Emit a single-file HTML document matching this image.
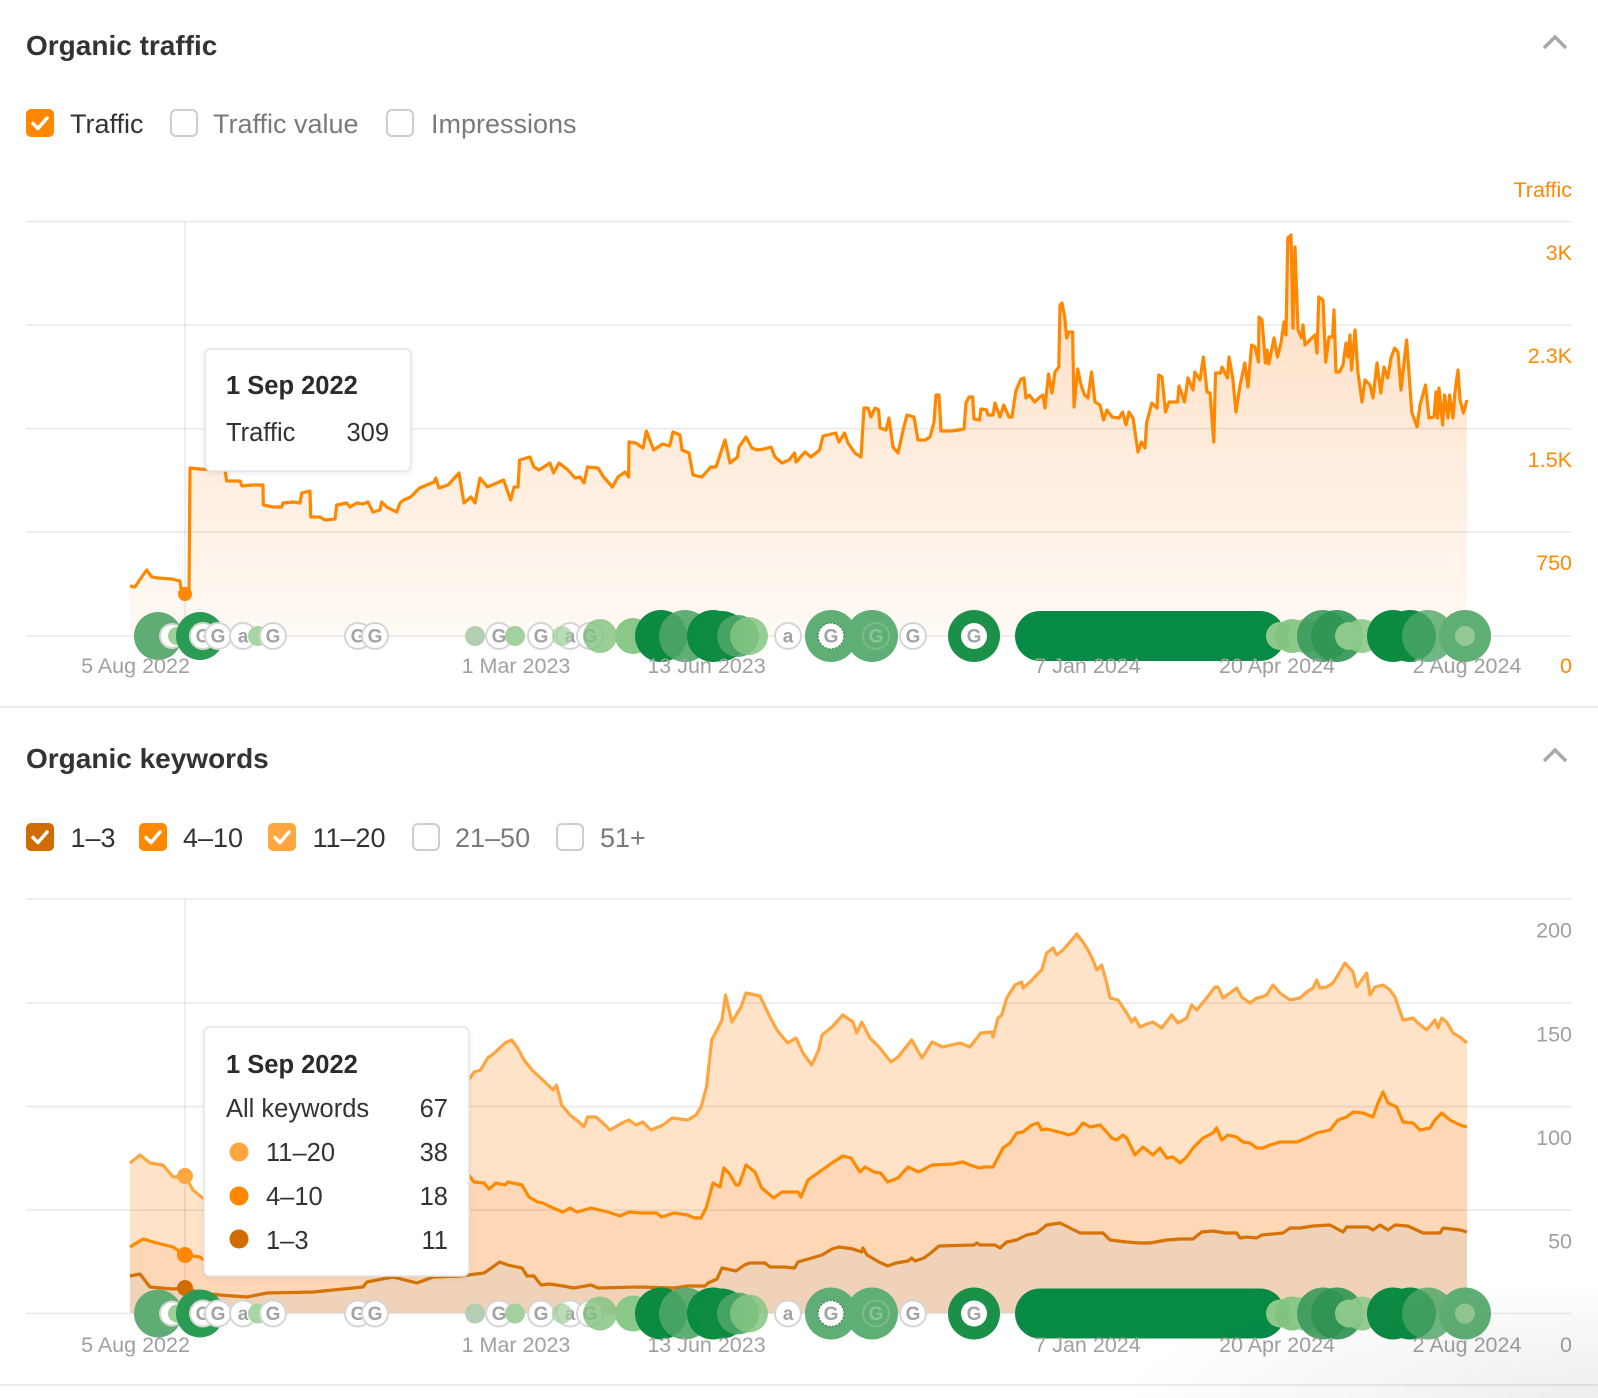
<!DOCTYPE html>
<html><head><meta charset="utf-8"><style>
html,body{margin:0;padding:0;background:#fff;width:1598px;height:1398px;overflow:hidden;}
svg{display:block;font-family:"Liberation Sans",Arial,sans-serif;overflow:hidden;}
</style></head><body>
<svg width="1598" height="1398" viewBox="0 0 1598 1398" xmlns="http://www.w3.org/2000/svg">
<defs>
<linearGradient id="tg" gradientUnits="userSpaceOnUse" x1="0" y1="240" x2="0" y2="636">
<stop offset="0" stop-color="#fddcbf"/><stop offset="1" stop-color="#fffaf5"/>
</linearGradient>
<radialGradient id="vg" gradientUnits="userSpaceOnUse" cx="1598" cy="1398" r="480" gradientTransform="translate(0,1398) scale(1,0.25) translate(0,-1398)">
<stop offset="0" stop-color="#000" stop-opacity="0.07"/><stop offset="1" stop-color="#000" stop-opacity="0"/>
</radialGradient>
<filter id="sh" x="-5%" y="-5%" width="110%" height="115%"><feDropShadow dx="0" dy="2" stdDeviation="3" flood-color="#000" flood-opacity="0.07"/></filter>
</defs>
<rect width="1598" height="1398" fill="#fff"/>

<!-- ===== Section 1 ===== -->
<text x="26" y="55" font-size="28" font-weight="bold" fill="#333">Organic traffic</text>
<polyline points="1544,48 1555,37 1566,48" fill="none" stroke="#a9a9a9" stroke-width="3.5"/>

<rect x="26" y="109" width="28" height="28" rx="5" fill="#ff8800"/>
<path d="M33,123.5 L38,128.5 L47,118" fill="none" stroke="#fff" stroke-width="3.5" stroke-linecap="round" stroke-linejoin="round"/>
<text x="70" y="133" font-size="27" fill="#333">Traffic</text>
<rect x="171" y="110" width="26" height="26" rx="5" fill="#fff" stroke="#cbd0cb" stroke-width="2"/>
<text x="213" y="133" font-size="27" fill="#7a7a7a">Traffic value</text>
<rect x="387" y="110" width="26" height="26" rx="5" fill="#fff" stroke="#cbd0cb" stroke-width="2"/>
<text x="431" y="133" font-size="27" fill="#7a7a7a">Impressions</text>

<text x="1572" y="197" font-size="21.5" fill="#ff8800" text-anchor="end">Traffic</text>

<!-- traffic area -->
<path fill="url(#tg)" d="M130,636 L130,586 135,587 141.7,577 146.7,570 151.7,577 158,578 171.7,579 180,581 181.7,593 185,594 189,593 190,468 200,469 213,470 225,470 226.7,481 240,481 242,486 251.7,485 263,485 263.3,505 273,507 281.7,507 283,503 293,502 300,503 301.7,493 310,491 310.7,517 320,517 325,520 335,519 336.7,505 346.7,503 350,507 356.7,503 363,504 368,502 373,512 380,510 381.7,502 386.7,507 396.7,512 400,503 403.6,500 410.7,497 419.6,488 434,482 435.7,478 439,488 448,485 459,473 464,503 471,497 475,503 480,478 487.5,487 503.6,480 510.7,500 514,487 518,487 519.6,460 530,457 534,467 539,470 550,463 553.6,473 559,463 568,470 575,478 580,477 584,483 587.5,467 598,468 603.6,477 612.5,487 618,477 625,472 628.6,477 629,442 635.7,443 643,448 646.4,431 653.6,450 662.5,444 669.6,446 673,432 680,435 682,450 689,453 693,475 702,477 710.7,467 716,467 725,440 730,463 737.5,457 739,447 746,437 752,448 757,450 764,449 771,447 775,457 782,463 789,460 794.6,453 796,462 805,452 811,457 819.6,450 823,436 835.7,433 839,442 844.6,433 848,443 855,453 861,457 864,408 868,408 871,417 875,408 878.6,410 880,428 886,430 889,418 893,447 898,453 903.6,428 907,415 914,417 918,440 925,440 930,437 934,422 936,395 939,395 941,431 952,431 964,429 966,403 969,397 972.7,397 974,419 979.6,420 981,409 986.5,410 988,415 993,415 995,403 1000,417 1003.7,405 1009,417 1012,417 1015.8,391 1021,379 1024,378 1026,398 1029.5,395 1034.7,402 1040,397 1043,395 1045,408 1048.5,374 1052,393 1055,372 1058.8,367 1060,305 1062,303 1064.7,317 1066.7,338 1069,332 1072.6,332 1074,407 1077.7,369 1081,385 1084.6,395 1088,398 1091.5,372 1095,402 1100,405 1103.6,420 1107,410 1112,417 1119,418 1122.5,412 1126,425 1129,412 1133,418 1138,452 1141.5,442 1145,448 1146.6,423 1151.8,403 1157,408 1158.7,375 1162,377 1165.5,412 1169,402 1177.6,402 1179,386 1184.5,402 1188,378 1193,390 1194.8,372 1200,380 1203.4,357 1207,392 1210,393 1213.8,442 1215.5,373 1220.6,373 1222,367 1227.5,378 1229,357 1232.7,378 1236,412 1239.6,388 1244.8,363 1248,387 1251.6,345 1255,347 1258.5,362 1259,317 1262,320 1265.4,363 1267,350 1268.8,364 1274,338 1277.5,357 1281,343 1284,322 1286,335 1287.8,238 1291,235 1293,328 1295,247 1298,330 1301.6,338 1303,325 1305,345 1310,340 1315,335 1317,353 1318.8,297 1323,300 1325.7,362 1329,337 1332.6,337 1334,310 1336,372 1339.5,372 1343,365 1346,343 1348,357 1350,335 1351.5,370 1355,330 1358,373 1362,402 1365,380 1370,385 1373,398 1377,363 1380.8,393 1384,367 1387.7,378 1391,358 1394.6,348 1398,352 1401,390 1406.6,340 1411.8,412 1417,427 1420,405 1425.5,385 1429,418 1434,417 1436,392 1437.6,418 1439,388 1442.7,425 1444.5,395 1448,418 1449.6,395 1453,418 1455,392 1458,370 1460,400 1463.4,413 1467,400 L1467,636 Z"/>

<!-- gridlines top -->
<g fill="#000" fill-opacity="0.085">
<rect x="26" y="220.8" width="1546" height="1.6"/>
<rect x="26" y="324.3" width="1546" height="1.6"/>
<rect x="26" y="427.8" width="1546" height="1.6"/>
<rect x="26" y="531.3" width="1546" height="1.6"/>
<rect x="26" y="635.2" width="1546" height="1.6"/>
<rect x="184.3" y="222" width="1.5" height="414"/>
</g>

<path fill="none" stroke="#ff8800" stroke-width="3.2" stroke-linejoin="round" d="M130,586 L135,587 141.7,577 146.7,570 151.7,577 158,578 171.7,579 180,581 181.7,593 185,594 189,593 190,468 200,469 213,470 225,470 226.7,481 240,481 242,486 251.7,485 263,485 263.3,505 273,507 281.7,507 283,503 293,502 300,503 301.7,493 310,491 310.7,517 320,517 325,520 335,519 336.7,505 346.7,503 350,507 356.7,503 363,504 368,502 373,512 380,510 381.7,502 386.7,507 396.7,512 400,503 403.6,500 410.7,497 419.6,488 434,482 435.7,478 439,488 448,485 459,473 464,503 471,497 475,503 480,478 487.5,487 503.6,480 510.7,500 514,487 518,487 519.6,460 530,457 534,467 539,470 550,463 553.6,473 559,463 568,470 575,478 580,477 584,483 587.5,467 598,468 603.6,477 612.5,487 618,477 625,472 628.6,477 629,442 635.7,443 643,448 646.4,431 653.6,450 662.5,444 669.6,446 673,432 680,435 682,450 689,453 693,475 702,477 710.7,467 716,467 725,440 730,463 737.5,457 739,447 746,437 752,448 757,450 764,449 771,447 775,457 782,463 789,460 794.6,453 796,462 805,452 811,457 819.6,450 823,436 835.7,433 839,442 844.6,433 848,443 855,453 861,457 864,408 868,408 871,417 875,408 878.6,410 880,428 886,430 889,418 893,447 898,453 903.6,428 907,415 914,417 918,440 925,440 930,437 934,422 936,395 939,395 941,431 952,431 964,429 966,403 969,397 972.7,397 974,419 979.6,420 981,409 986.5,410 988,415 993,415 995,403 1000,417 1003.7,405 1009,417 1012,417 1015.8,391 1021,379 1024,378 1026,398 1029.5,395 1034.7,402 1040,397 1043,395 1045,408 1048.5,374 1052,393 1055,372 1058.8,367 1060,305 1062,303 1064.7,317 1066.7,338 1069,332 1072.6,332 1074,407 1077.7,369 1081,385 1084.6,395 1088,398 1091.5,372 1095,402 1100,405 1103.6,420 1107,410 1112,417 1119,418 1122.5,412 1126,425 1129,412 1133,418 1138,452 1141.5,442 1145,448 1146.6,423 1151.8,403 1157,408 1158.7,375 1162,377 1165.5,412 1169,402 1177.6,402 1179,386 1184.5,402 1188,378 1193,390 1194.8,372 1200,380 1203.4,357 1207,392 1210,393 1213.8,442 1215.5,373 1220.6,373 1222,367 1227.5,378 1229,357 1232.7,378 1236,412 1239.6,388 1244.8,363 1248,387 1251.6,345 1255,347 1258.5,362 1259,317 1262,320 1265.4,363 1267,350 1268.8,364 1274,338 1277.5,357 1281,343 1284,322 1286,335 1287.8,238 1291,235 1293,328 1295,247 1298,330 1301.6,338 1303,325 1305,345 1310,340 1315,335 1317,353 1318.8,297 1323,300 1325.7,362 1329,337 1332.6,337 1334,310 1336,372 1339.5,372 1343,365 1346,343 1348,357 1350,335 1351.5,370 1355,330 1358,373 1362,402 1365,380 1370,385 1373,398 1377,363 1380.8,393 1384,367 1387.7,378 1391,358 1394.6,348 1398,352 1401,390 1406.6,340 1411.8,412 1417,427 1420,405 1425.5,385 1429,418 1434,417 1436,392 1437.6,418 1439,388 1442.7,425 1444.5,395 1448,418 1449.6,395 1453,418 1455,392 1458,370 1460,400 1463.4,413 1467,400"/>
<circle cx="185" cy="594" r="7" fill="#ff8800"/>

<!-- markers top -->
<g transform="translate(0,636)" font-weight="bold" font-size="19" text-anchor="middle">
<circle cx="158" r="24" fill="#5fac74"/>
<circle cx="172" r="12" fill="#fff" stroke="#cfd4cf" stroke-width="2"/>
<circle cx="177" r="9" fill="#9dd09a"/>
<circle cx="200" r="24" fill="#2a9b52"/>
<circle cx="203" r="13" fill="#fff" stroke="#d5d5d5" stroke-width="2"/><text x="203" y="6.5" fill="#a3a3a3">G</text>
<circle cx="218" r="13" fill="#fff" stroke="#d5d5d5" stroke-width="2"/><text x="218" y="6.5" fill="#a3a3a3">G</text>
<circle cx="243" r="13" fill="#fff" stroke="#d5d5d5" stroke-width="2"/><text x="243" y="6.5" fill="#a3a3a3">a</text>
<circle cx="258" r="10" fill="#a8d5a4"/>
<circle cx="273" r="13" fill="#fff" stroke="#d5d5d5" stroke-width="2"/><text x="273" y="6.5" fill="#a3a3a3">G</text>
<circle cx="358" r="13" fill="#fff" stroke="#d5d5d5" stroke-width="2"/><text x="358" y="6.5" fill="#a3a3a3">G</text>
<circle cx="375" r="13" fill="#fff" stroke="#d5d5d5" stroke-width="2"/><text x="375" y="6.5" fill="#a3a3a3">G</text>
<circle cx="475" r="10" fill="#b3ceb3"/>
<circle cx="499" r="13" fill="#fff" stroke="#d5d5d5" stroke-width="2"/><text x="499" y="6.5" fill="#a3a3a3">G</text>
<circle cx="515" r="10" fill="#a2d09e"/>
<circle cx="541" r="13" fill="#fff" stroke="#d5d5d5" stroke-width="2"/><text x="541" y="6.5" fill="#a3a3a3">G</text>
<circle cx="570" r="13" fill="#fff" stroke="#d5d5d5" stroke-width="2"/><text x="570" y="6.5" fill="#a3a3a3">a</text>
<circle cx="562" r="10" fill="#9dce99" fill-opacity="0.7"/>
<circle cx="590" r="13" fill="#fff" stroke="#d5d5d5" stroke-width="2"/><text x="590" y="6.5" fill="#a3a3a3">G</text>
<circle cx="600" r="17" fill="#7fc27d" fill-opacity="0.8"/>
<circle cx="633" r="18" fill="#8ac887"/>
<circle cx="661" r="26" fill="#0b8a42"/>
<circle cx="685" r="26" fill="#4ea567" fill-opacity="0.9"/>
<circle cx="713" r="26" fill="#0b8a42"/>
<circle cx="722" r="25" fill="#0d8b43"/>
<circle cx="738" r="21" fill="#4ea567" fill-opacity="0.9"/>
<circle cx="749" r="19" fill="#85c583" fill-opacity="0.85"/>
<circle cx="788" r="13" fill="#fff" stroke="#d5d5d5" stroke-width="2"/><text x="788" y="6.5" fill="#a3a3a3">a</text>
<circle cx="831" r="26" fill="#5fae75"/>
<circle cx="831" r="13" fill="#fff" stroke="#4f8a60" stroke-width="1.5" stroke-dasharray="2 1.5"/><text x="831" y="6.5" fill="#a3a3a3">G</text>
<circle cx="872" r="26" fill="#5fae75"/>
<circle cx="876" r="13" fill="none" stroke="#7cbb8a" stroke-width="2"/><text x="876" y="6.5" fill="#89c498">G</text>
<circle cx="913" r="13" fill="#fff" stroke="#d5d5d5" stroke-width="2"/><text x="913" y="6.5" fill="#a3a3a3">G</text>
<circle cx="974" r="26" fill="#1a9049"/>
<circle cx="974" r="13" fill="#fff"/><text x="974" y="6.5" fill="#a3a3a3">G</text>
<line x1="1040" y1="0" x2="1260" y2="0" stroke="#068a44" stroke-width="50" stroke-linecap="round"/>
<circle cx="1280" r="14" fill="#8cc98a"/>
<circle cx="1292" r="17" fill="#7fc27d" fill-opacity="0.9"/>
<circle cx="1305" r="17" fill="#8cc98a" fill-opacity="0.9"/>
<circle cx="1323" r="26" fill="#3b9a5b" fill-opacity="0.9"/>
<circle cx="1337" r="26" fill="#2f9452" fill-opacity="0.9"/>
<circle cx="1349" r="14" fill="#8cc98a"/>
<circle cx="1362" r="17" fill="#8cc98a" fill-opacity="0.9"/>
<circle cx="1393" r="26" fill="#0b8a42"/>
<circle cx="1410" r="26" fill="#0b8a42"/>
<circle cx="1428" r="26" fill="#4ea567" fill-opacity="0.8"/>
<circle cx="1465" r="26" fill="#5fae75"/>
<circle cx="1465" r="10" fill="#93c793"/>
</g>

<g font-size="21.5" fill="#a0a0a0" text-anchor="middle">
<text x="135.5" y="673">5 Aug 2022</text>
<text x="516" y="673">1 Mar 2023</text>
<text x="706.5" y="673">13 Jun 2023</text>
<text x="1087.5" y="673">7 Jan 2024</text>
<text x="1277" y="673">20 Apr 2024</text>
<text x="1467" y="673">2 Aug 2024</text>
</g>
<g font-size="21.5" fill="#ff8800" text-anchor="end">
<text x="1572" y="260">3K</text>
<text x="1572" y="363">2.3K</text>
<text x="1572" y="467">1.5K</text>
<text x="1572" y="570">750</text>
<text x="1572" y="673">0</text>
</g>

<!-- tooltip 1 -->
<rect x="205" y="349" width="206" height="122" rx="6" fill="#fff" stroke="#e4e4e4" stroke-width="1.5" filter="url(#sh)"/>
<text x="226" y="394" font-size="25.5" font-weight="bold" fill="#2b2b2b">1 Sep 2022</text>
<text x="226" y="441" font-size="25.5" fill="#333">Traffic</text>
<text x="389" y="441" font-size="25.5" fill="#333" text-anchor="end">309</text>

<rect x="0" y="706" width="1598" height="2" fill="#ececec"/>

<!-- ===== Section 2 ===== -->
<text x="26" y="768" font-size="28" font-weight="bold" fill="#333">Organic keywords</text>
<polyline points="1544,761 1555,750 1566,761" fill="none" stroke="#a9a9a9" stroke-width="3.5"/>

<rect x="26" y="823" width="28" height="28" rx="5" fill="#d06d00"/>
<path d="M33,837.5 L38,842.5 L47,832" fill="none" stroke="#fff" stroke-width="3.5" stroke-linecap="round" stroke-linejoin="round"/>
<text x="70.5" y="847" font-size="27" fill="#333">1–3</text>
<rect x="139" y="823" width="28" height="28" rx="5" fill="#ff8800"/>
<path d="M146,837.5 L151,842.5 L160,832" fill="none" stroke="#fff" stroke-width="3.5" stroke-linecap="round" stroke-linejoin="round"/>
<text x="183" y="847" font-size="27" fill="#333">4–10</text>
<rect x="268" y="823" width="28" height="28" rx="5" fill="#ffa640"/>
<path d="M275,837.5 L280,842.5 L289,832" fill="none" stroke="#fff" stroke-width="3.5" stroke-linecap="round" stroke-linejoin="round"/>
<text x="312.5" y="847" font-size="27" fill="#333">11–20</text>
<rect x="413" y="824" width="26" height="26" rx="5" fill="#fff" stroke="#cbd0cb" stroke-width="2"/>
<text x="455" y="847" font-size="27" fill="#7a7a7a">21–50</text>
<rect x="557" y="824" width="26" height="26" rx="5" fill="#fff" stroke="#cbd0cb" stroke-width="2"/>
<text x="600" y="847" font-size="27" fill="#7a7a7a">51+</text>

<!-- areas -->
<path fill="#fee3c9" d="M130,1313 L130,1163 140,1155 150,1163 163,1165 173,1177 185,1176 193,1190 204,1199 260,1180 330,1140 400,1100 440,1085 460,1080 468.6,1080 474,1072 480.7,1070 487.6,1058 494.5,1053 505,1043 511.7,1040 517,1047 524,1060 532,1070 542.8,1080 553,1090 556.5,1085 561.7,1105 570,1115 579,1122 584,1127 587.6,1117 596,1117 605,1125 610,1130 622,1123 629,1120 636,1125 642.8,1122 651,1130 663,1125 672,1118 687.6,1120 696,1115 701,1107 706.5,1087 711.7,1040 717,1030 722,1020 725.5,995 732,1022 741,1007 746,993 760,996 770,1017 777,1030 787.6,1043 796,1038 803,1053 811.7,1065 818.6,1050 822,1035 832,1027 842.8,1015 853,1022 856.6,1033 861.7,1022 870,1038 879,1047 891,1062 898,1057 911.7,1040 922,1058 932,1042 942.8,1047 960,1043 970,1047 980.7,1033 991.7,1032 993,1037 998,1018 1001.7,1015 1006.7,998 1015,985 1021.7,982 1023,988 1030,982 1036.7,975 1041.7,970 1046.7,953 1053,948 1056.7,955 1063,950 1070,942 1076.7,934 1083,942 1088,950 1093,960 1096.7,970 1101.7,965 1106.7,983 1110,998 1118,1000 1126.7,1013 1131.7,1022 1135,1018 1140,1027 1146.7,1024 1153,1022 1161.7,1028 1171.7,1015 1178,1023 1186.7,1018 1191.7,1005 1196.7,1010 1206.7,998 1215,987 1218,987 1223,998 1236.7,988 1241.7,997 1250,1003 1256.7,998 1261.7,997 1266.7,995 1273,985 1280,993 1290,1000 1300,998 1306.7,992 1313,988 1316.7,980 1320,988 1326.7,987 1333,983 1338,975 1345,963 1353,972 1356.7,987 1366.7,973 1370,995 1375,987 1383,985 1390,990 1395,997 1403,1020 1413,1018 1418,1023 1426.7,1030 1435,1020 1438,1028 1441.7,1018 1446.7,1022 1453,1033 1460,1037 1467,1043 L1467,1313 Z"/>
<path fill="#fed8b6" d="M130,1313 L130,1247 143,1239 157,1243 173,1247 185,1255 200,1257 204,1260 300,1230 400,1200 460,1180 468.6,1175 474,1182 484,1183 489,1189 496,1183 505,1185 508,1182 522,1185 529,1197 537.6,1202 542.8,1203 553,1208 563,1212 570,1208 577,1212 591,1208 608,1212 620,1216 629,1212 642.8,1213 656.6,1213 661.7,1217 674,1213 687.6,1215 694.5,1218 701,1218 706.5,1207 713,1183 720,1187 723.8,1168 729,1173 736,1185 739,1185 746,1165 755,1172 761.7,1188 773.8,1198 782,1192 798,1192 801,1197 808,1180 822,1170 832,1163 842.8,1156 851,1158 860,1172 865,1167 874,1172 880.7,1173 887.6,1182 898,1178 908,1167 918.6,1172 932,1165 953,1164 963,1162 970,1165 979,1168 984,1167 993,1167 996.7,1160 1003,1148 1010,1143 1016.7,1133 1023,1132 1031.7,1125 1038,1123 1041.7,1130 1046.7,1129 1063,1133 1068,1135 1075,1133 1083,1123 1090,1127 1100,1125 1106.7,1132 1111.7,1138 1116.7,1140 1123,1135 1126.7,1138 1135,1155 1143,1147 1153,1155 1160,1148 1166.7,1158 1173,1157 1180,1163 1186.7,1157 1193,1148 1203,1138 1213,1133 1216.7,1128 1221.7,1140 1228,1135 1236.7,1137 1243,1142 1250,1143 1256.7,1148 1263,1148 1270,1145 1280,1142 1296.7,1142 1306.7,1138 1316.7,1133 1330,1130 1338,1120 1346.7,1117 1353,1112 1363,1113 1373,1117 1378,1103 1383,1092 1388,1103 1396.7,1107 1403,1122 1413,1123 1420,1130 1430,1128 1435,1120 1441.7,1113 1450,1120 1460,1125 1467,1127 L1467,1313 Z"/>
<path fill="#efd2b8" d="M130,1313 L130,1276 140,1274 150,1287 173,1289 185,1288 200,1293 220,1295 247,1297 267,1293 313,1292 363,1287 367,1282 393,1277 417,1283 433,1277 460,1276 484,1273 492.8,1267 499.6,1262 508,1265 517,1267 522,1268 527,1276 534,1276 541,1285 549.6,1284 563,1286 574,1288 591,1285 598,1288 639,1287 674,1288 687.6,1286 705,1286 708,1283 717,1279 722,1268 736,1271 744.5,1265 749.6,1263 765,1263 770,1267 784,1267 794.5,1268 798,1262 811.7,1258 822,1255 832,1249 839,1247 853,1249 861.7,1252 863,1248 867,1255 879,1262 887.6,1266 896,1263 908,1261 911.7,1258 915,1261 924,1258 930.7,1253 939,1246 974,1245 977,1243 980,1245 995,1245 1000,1248 1006.7,1242 1016.7,1240 1026.7,1235 1036.7,1233 1046.7,1225 1060,1223 1070,1228 1080,1233 1096.7,1233 1103,1233 1110,1240 1126.7,1242 1140,1243 1150,1243 1166.7,1240 1180,1239 1193,1239 1201.7,1232 1213,1231 1225,1233 1236.7,1233 1240,1238 1246.7,1237 1256.7,1238 1261.7,1235 1283,1233 1290,1228 1300,1228 1313,1226 1330,1225 1343,1232 1346.7,1227 1368,1227 1373,1230 1380,1225 1388,1230 1395,1225 1408,1226 1423,1233 1440,1233 1443,1228 1460,1230 1467,1232 L1467,1313 Z"/>

<!-- gridlines bottom -->
<g fill="#000" fill-opacity="0.085">
<rect x="26" y="898.2" width="1546" height="1.6"/>
<rect x="26" y="1002.2" width="1546" height="1.6"/>
<rect x="26" y="1105.8" width="1546" height="1.6"/>
<rect x="26" y="1209.3" width="1546" height="1.6"/>
<rect x="26" y="1312.7" width="1546" height="1.6"/>
<rect x="184.3" y="899" width="1.5" height="414"/>
</g>

<g fill="none" stroke-width="3.2" stroke-linejoin="round">
<path stroke="#ffa53f" d="M130,1163 L140,1155 150,1163 163,1165 173,1177 185,1176 193,1190 204,1199 260,1180 330,1140 400,1100 440,1085 460,1080 468.6,1080 474,1072 480.7,1070 487.6,1058 494.5,1053 505,1043 511.7,1040 517,1047 524,1060 532,1070 542.8,1080 553,1090 556.5,1085 561.7,1105 570,1115 579,1122 584,1127 587.6,1117 596,1117 605,1125 610,1130 622,1123 629,1120 636,1125 642.8,1122 651,1130 663,1125 672,1118 687.6,1120 696,1115 701,1107 706.5,1087 711.7,1040 717,1030 722,1020 725.5,995 732,1022 741,1007 746,993 760,996 770,1017 777,1030 787.6,1043 796,1038 803,1053 811.7,1065 818.6,1050 822,1035 832,1027 842.8,1015 853,1022 856.6,1033 861.7,1022 870,1038 879,1047 891,1062 898,1057 911.7,1040 922,1058 932,1042 942.8,1047 960,1043 970,1047 980.7,1033 991.7,1032 993,1037 998,1018 1001.7,1015 1006.7,998 1015,985 1021.7,982 1023,988 1030,982 1036.7,975 1041.7,970 1046.7,953 1053,948 1056.7,955 1063,950 1070,942 1076.7,934 1083,942 1088,950 1093,960 1096.7,970 1101.7,965 1106.7,983 1110,998 1118,1000 1126.7,1013 1131.7,1022 1135,1018 1140,1027 1146.7,1024 1153,1022 1161.7,1028 1171.7,1015 1178,1023 1186.7,1018 1191.7,1005 1196.7,1010 1206.7,998 1215,987 1218,987 1223,998 1236.7,988 1241.7,997 1250,1003 1256.7,998 1261.7,997 1266.7,995 1273,985 1280,993 1290,1000 1300,998 1306.7,992 1313,988 1316.7,980 1320,988 1326.7,987 1333,983 1338,975 1345,963 1353,972 1356.7,987 1366.7,973 1370,995 1375,987 1383,985 1390,990 1395,997 1403,1020 1413,1018 1418,1023 1426.7,1030 1435,1020 1438,1028 1441.7,1018 1446.7,1022 1453,1033 1460,1037 1467,1043"/>
<path stroke="#ff8a00" d="M130,1247 L143,1239 157,1243 173,1247 185,1255 200,1257 204,1260 300,1230 400,1200 460,1180 468.6,1175 474,1182 484,1183 489,1189 496,1183 505,1185 508,1182 522,1185 529,1197 537.6,1202 542.8,1203 553,1208 563,1212 570,1208 577,1212 591,1208 608,1212 620,1216 629,1212 642.8,1213 656.6,1213 661.7,1217 674,1213 687.6,1215 694.5,1218 701,1218 706.5,1207 713,1183 720,1187 723.8,1168 729,1173 736,1185 739,1185 746,1165 755,1172 761.7,1188 773.8,1198 782,1192 798,1192 801,1197 808,1180 822,1170 832,1163 842.8,1156 851,1158 860,1172 865,1167 874,1172 880.7,1173 887.6,1182 898,1178 908,1167 918.6,1172 932,1165 953,1164 963,1162 970,1165 979,1168 984,1167 993,1167 996.7,1160 1003,1148 1010,1143 1016.7,1133 1023,1132 1031.7,1125 1038,1123 1041.7,1130 1046.7,1129 1063,1133 1068,1135 1075,1133 1083,1123 1090,1127 1100,1125 1106.7,1132 1111.7,1138 1116.7,1140 1123,1135 1126.7,1138 1135,1155 1143,1147 1153,1155 1160,1148 1166.7,1158 1173,1157 1180,1163 1186.7,1157 1193,1148 1203,1138 1213,1133 1216.7,1128 1221.7,1140 1228,1135 1236.7,1137 1243,1142 1250,1143 1256.7,1148 1263,1148 1270,1145 1280,1142 1296.7,1142 1306.7,1138 1316.7,1133 1330,1130 1338,1120 1346.7,1117 1353,1112 1363,1113 1373,1117 1378,1103 1383,1092 1388,1103 1396.7,1107 1403,1122 1413,1123 1420,1130 1430,1128 1435,1120 1441.7,1113 1450,1120 1460,1125 1467,1127"/>
<path stroke="#d57306" d="M130,1276 L140,1274 150,1287 173,1289 185,1288 200,1293 220,1295 247,1297 267,1293 313,1292 363,1287 367,1282 393,1277 417,1283 433,1277 460,1276 484,1273 492.8,1267 499.6,1262 508,1265 517,1267 522,1268 527,1276 534,1276 541,1285 549.6,1284 563,1286 574,1288 591,1285 598,1288 639,1287 674,1288 687.6,1286 705,1286 708,1283 717,1279 722,1268 736,1271 744.5,1265 749.6,1263 765,1263 770,1267 784,1267 794.5,1268 798,1262 811.7,1258 822,1255 832,1249 839,1247 853,1249 861.7,1252 863,1248 867,1255 879,1262 887.6,1266 896,1263 908,1261 911.7,1258 915,1261 924,1258 930.7,1253 939,1246 974,1245 977,1243 980,1245 995,1245 1000,1248 1006.7,1242 1016.7,1240 1026.7,1235 1036.7,1233 1046.7,1225 1060,1223 1070,1228 1080,1233 1096.7,1233 1103,1233 1110,1240 1126.7,1242 1140,1243 1150,1243 1166.7,1240 1180,1239 1193,1239 1201.7,1232 1213,1231 1225,1233 1236.7,1233 1240,1238 1246.7,1237 1256.7,1238 1261.7,1235 1283,1233 1290,1228 1300,1228 1313,1226 1330,1225 1343,1232 1346.7,1227 1368,1227 1373,1230 1380,1225 1388,1230 1395,1225 1408,1226 1423,1233 1440,1233 1443,1228 1460,1230 1467,1232"/>
</g>
<circle cx="185" cy="1176" r="8" fill="#ffa640"/>
<circle cx="185" cy="1255" r="8" fill="#ff8800"/>
<circle cx="185" cy="1288" r="8" fill="#d06d00"/>

<!-- markers bottom -->
<g transform="translate(0,1313.5)" font-weight="bold" font-size="19" text-anchor="middle">
<circle cx="158" r="24" fill="#5fac74"/>
<circle cx="172" r="12" fill="#fff" stroke="#cfd4cf" stroke-width="2"/>
<circle cx="177" r="9" fill="#9dd09a"/>
<circle cx="200" r="24" fill="#2a9b52"/>
<circle cx="203" r="13" fill="#fff" stroke="#d5d5d5" stroke-width="2"/><text x="203" y="6.5" fill="#a3a3a3">G</text>
<circle cx="218" r="13" fill="#fff" stroke="#d5d5d5" stroke-width="2"/><text x="218" y="6.5" fill="#a3a3a3">G</text>
<circle cx="243" r="13" fill="#fff" stroke="#d5d5d5" stroke-width="2"/><text x="243" y="6.5" fill="#a3a3a3">a</text>
<circle cx="258" r="10" fill="#a8d5a4"/>
<circle cx="273" r="13" fill="#fff" stroke="#d5d5d5" stroke-width="2"/><text x="273" y="6.5" fill="#a3a3a3">G</text>
<circle cx="358" r="13" fill="#fff" stroke="#d5d5d5" stroke-width="2"/><text x="358" y="6.5" fill="#a3a3a3">G</text>
<circle cx="375" r="13" fill="#fff" stroke="#d5d5d5" stroke-width="2"/><text x="375" y="6.5" fill="#a3a3a3">G</text>
<circle cx="475" r="10" fill="#b3ceb3"/>
<circle cx="499" r="13" fill="#fff" stroke="#d5d5d5" stroke-width="2"/><text x="499" y="6.5" fill="#a3a3a3">G</text>
<circle cx="515" r="10" fill="#a2d09e"/>
<circle cx="541" r="13" fill="#fff" stroke="#d5d5d5" stroke-width="2"/><text x="541" y="6.5" fill="#a3a3a3">G</text>
<circle cx="570" r="13" fill="#fff" stroke="#d5d5d5" stroke-width="2"/><text x="570" y="6.5" fill="#a3a3a3">a</text>
<circle cx="562" r="10" fill="#9dce99" fill-opacity="0.7"/>
<circle cx="590" r="13" fill="#fff" stroke="#d5d5d5" stroke-width="2"/><text x="590" y="6.5" fill="#a3a3a3">G</text>
<circle cx="600" r="17" fill="#7fc27d" fill-opacity="0.8"/>
<circle cx="633" r="18" fill="#8ac887"/>
<circle cx="661" r="26" fill="#0b8a42"/>
<circle cx="685" r="26" fill="#4ea567" fill-opacity="0.9"/>
<circle cx="713" r="26" fill="#0b8a42"/>
<circle cx="722" r="25" fill="#0d8b43"/>
<circle cx="738" r="21" fill="#4ea567" fill-opacity="0.9"/>
<circle cx="749" r="19" fill="#85c583" fill-opacity="0.85"/>
<circle cx="788" r="13" fill="#fff" stroke="#d5d5d5" stroke-width="2"/><text x="788" y="6.5" fill="#a3a3a3">a</text>
<circle cx="831" r="26" fill="#5fae75"/>
<circle cx="831" r="13" fill="#fff" stroke="#4f8a60" stroke-width="1.5" stroke-dasharray="2 1.5"/><text x="831" y="6.5" fill="#a3a3a3">G</text>
<circle cx="872" r="26" fill="#5fae75"/>
<circle cx="876" r="13" fill="none" stroke="#7cbb8a" stroke-width="2"/><text x="876" y="6.5" fill="#89c498">G</text>
<circle cx="913" r="13" fill="#fff" stroke="#d5d5d5" stroke-width="2"/><text x="913" y="6.5" fill="#a3a3a3">G</text>
<circle cx="974" r="26" fill="#1a9049"/>
<circle cx="974" r="13" fill="#fff"/><text x="974" y="6.5" fill="#a3a3a3">G</text>
<line x1="1040" y1="0" x2="1260" y2="0" stroke="#068a44" stroke-width="50" stroke-linecap="round"/>
<circle cx="1280" r="14" fill="#8cc98a"/>
<circle cx="1292" r="17" fill="#7fc27d" fill-opacity="0.9"/>
<circle cx="1305" r="17" fill="#8cc98a" fill-opacity="0.9"/>
<circle cx="1323" r="26" fill="#3b9a5b" fill-opacity="0.9"/>
<circle cx="1337" r="26" fill="#2f9452" fill-opacity="0.9"/>
<circle cx="1349" r="14" fill="#8cc98a"/>
<circle cx="1362" r="17" fill="#8cc98a" fill-opacity="0.9"/>
<circle cx="1393" r="26" fill="#0b8a42"/>
<circle cx="1410" r="26" fill="#0b8a42"/>
<circle cx="1428" r="26" fill="#4ea567" fill-opacity="0.8"/>
<circle cx="1465" r="26" fill="#5fae75"/>
<circle cx="1465" r="10" fill="#93c793"/>
</g>

<g font-size="21.5" fill="#a0a0a0" text-anchor="middle">
<text x="135.5" y="1352">5 Aug 2022</text>
<text x="516" y="1352">1 Mar 2023</text>
<text x="706.5" y="1352">13 Jun 2023</text>
<text x="1087.5" y="1352">7 Jan 2024</text>
<text x="1277" y="1352">20 Apr 2024</text>
<text x="1467" y="1352">2 Aug 2024</text>
</g>
<g font-size="21.5" fill="#a0a0a0" text-anchor="end">
<text x="1572" y="937.5">200</text>
<text x="1572" y="1041.5">150</text>
<text x="1572" y="1145">100</text>
<text x="1572" y="1248.5">50</text>
<text x="1572" y="1352">0</text>
</g>

<!-- tooltip 2 -->
<rect x="204" y="1027" width="265" height="249" rx="6" fill="#fff" stroke="#e4e4e4" stroke-width="1.5" filter="url(#sh)"/>
<text x="226" y="1073" font-size="25.5" font-weight="bold" fill="#2b2b2b">1 Sep 2022</text>
<g font-size="25.5" fill="#333">
<text x="226" y="1117">All keywords</text>
<text x="448" y="1117" text-anchor="end">67</text>
<circle cx="239" cy="1152" r="9.5" fill="#ffa640"/>
<text x="266" y="1161">11–20</text>
<text x="448" y="1161" text-anchor="end">38</text>
<circle cx="239" cy="1196" r="9.5" fill="#ff8800"/>
<text x="266" y="1205">4–10</text>
<text x="448" y="1205" text-anchor="end">18</text>
<circle cx="239" cy="1239" r="9.5" fill="#d06d00"/>
<text x="266" y="1249">1–3</text>
<text x="448" y="1249" text-anchor="end">11</text>
</g>

<rect x="0" y="1384" width="1598" height="2" fill="#ececec"/>
<rect x="1118" y="1286" width="480" height="112" fill="url(#vg)"/>
</svg>
</body></html>
